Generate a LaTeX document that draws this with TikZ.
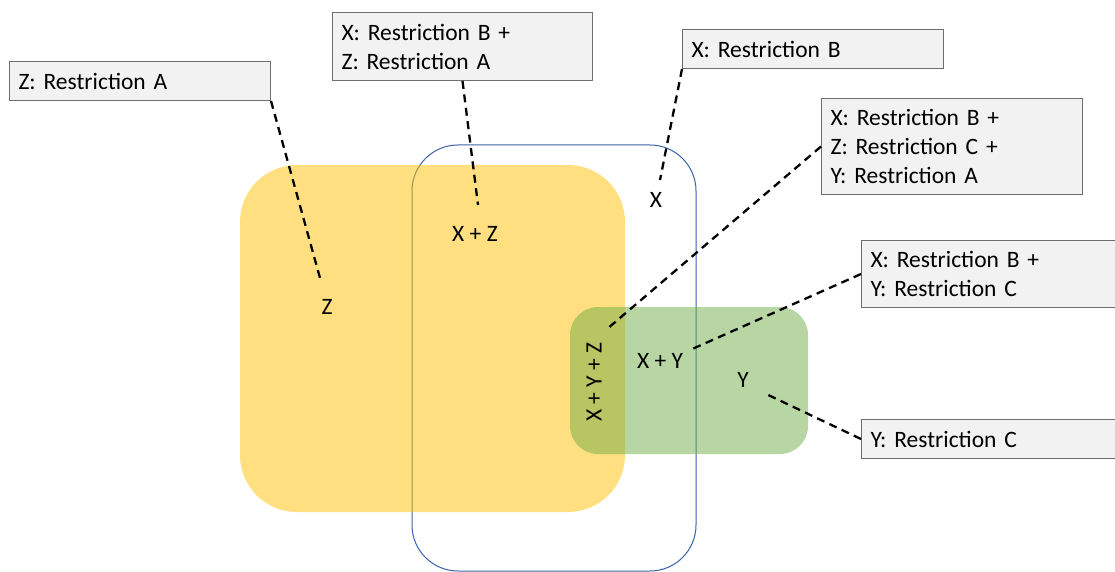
\documentclass[tikz,border=0pt]{standalone}
\usepackage{fontspec}
\setmainfont{Carlito}
\definecolor{zyellow}{HTML}{FFC000}
\definecolor{ygreen}{HTML}{70AD47}
\definecolor{xblue}{HTML}{3A62A8}
\definecolor{boxfill}{HTML}{F2F2F2}
\definecolor{boxline}{HTML}{6E6E6E}
\tikzset{
  callout/.style={draw=boxline, fill=boxfill, line width=1pt, anchor=north west,
    align=left, inner xsep=9pt, inner ysep=0pt},
  lbl/.style={inner sep=0pt},
  leader/.style={line width=2.3pt, dash pattern=on 8pt off 5.5pt},
}
\begin{document}
\begin{tikzpicture}[x=1pt,y=-1pt,font=\fontsize{23.5}{29}\selectfont]
\useasboundingbox (0,0) rectangle (1115,572);
\clip (0,0) rectangle (1115,572);
% X set (outline)
\draw[xblue, line width=1pt, rounded corners=46pt] (412,145) rectangle (696,571);
% Z set
\fill[zyellow, fill opacity=0.5, rounded corners=57pt] (240,165) rectangle (625,512);
% Y set
\fill[ygreen, fill opacity=0.5, rounded corners=28pt] (570,307) rectangle (808,454);
% region labels
\node[lbl] (z) at (327,307) {Z};
\node[lbl] (xz) at (475,234) {X + Z};
\node[lbl] (x) at (656,200) {X};
\node[lbl, rotate=90] (xyz) at (594,382) {X + Y + Z};
\node[lbl] (xy) at (660,361) {X + Y};
\node[lbl] (y) at (743,380) {Y};
% callouts
\node[callout, text width=243pt, minimum height=39pt] (b1) at (9,61) {Z: Restriction A};
\node[callout, text width=242pt, minimum height=68pt] (b2) at (332,12) {X: Restriction B +\\Z: Restriction A};
\node[callout, text width=243pt, minimum height=39pt] (b3) at (682,29) {X: Restriction B};
\node[callout, text width=243pt, minimum height=96pt] (b4) at (821,98) {X: Restriction B +\\Z: Restriction C +\\Y: Restriction A};
\node[callout, text width=252pt, minimum height=67pt] (b5) at (861,240) {X: Restriction B +\\Y: Restriction C};
\node[callout, text width=252pt, minimum height=39pt] (b6) at (861,419) {Y: Restriction C};
% leader end points
\coordinate (e1) at (320,278);
\coordinate (e2) at (478,205);
\coordinate (e3) at (660,180);
\coordinate (e4) at (607,329);
\coordinate (e5) at (690,350);
\coordinate (e6) at (764,393);
\draw[leader] (b1.south east) -- (e1);
\draw[leader] (b2.south) -- (e2);
\draw[leader] (b3.south west) -- (e3);
\draw[leader] (b4.west) -- (e4);
\draw[leader] (b5.west) -- (e5);
\draw[leader] (b6.west) -- (e6);
\end{tikzpicture}
\end{document}
